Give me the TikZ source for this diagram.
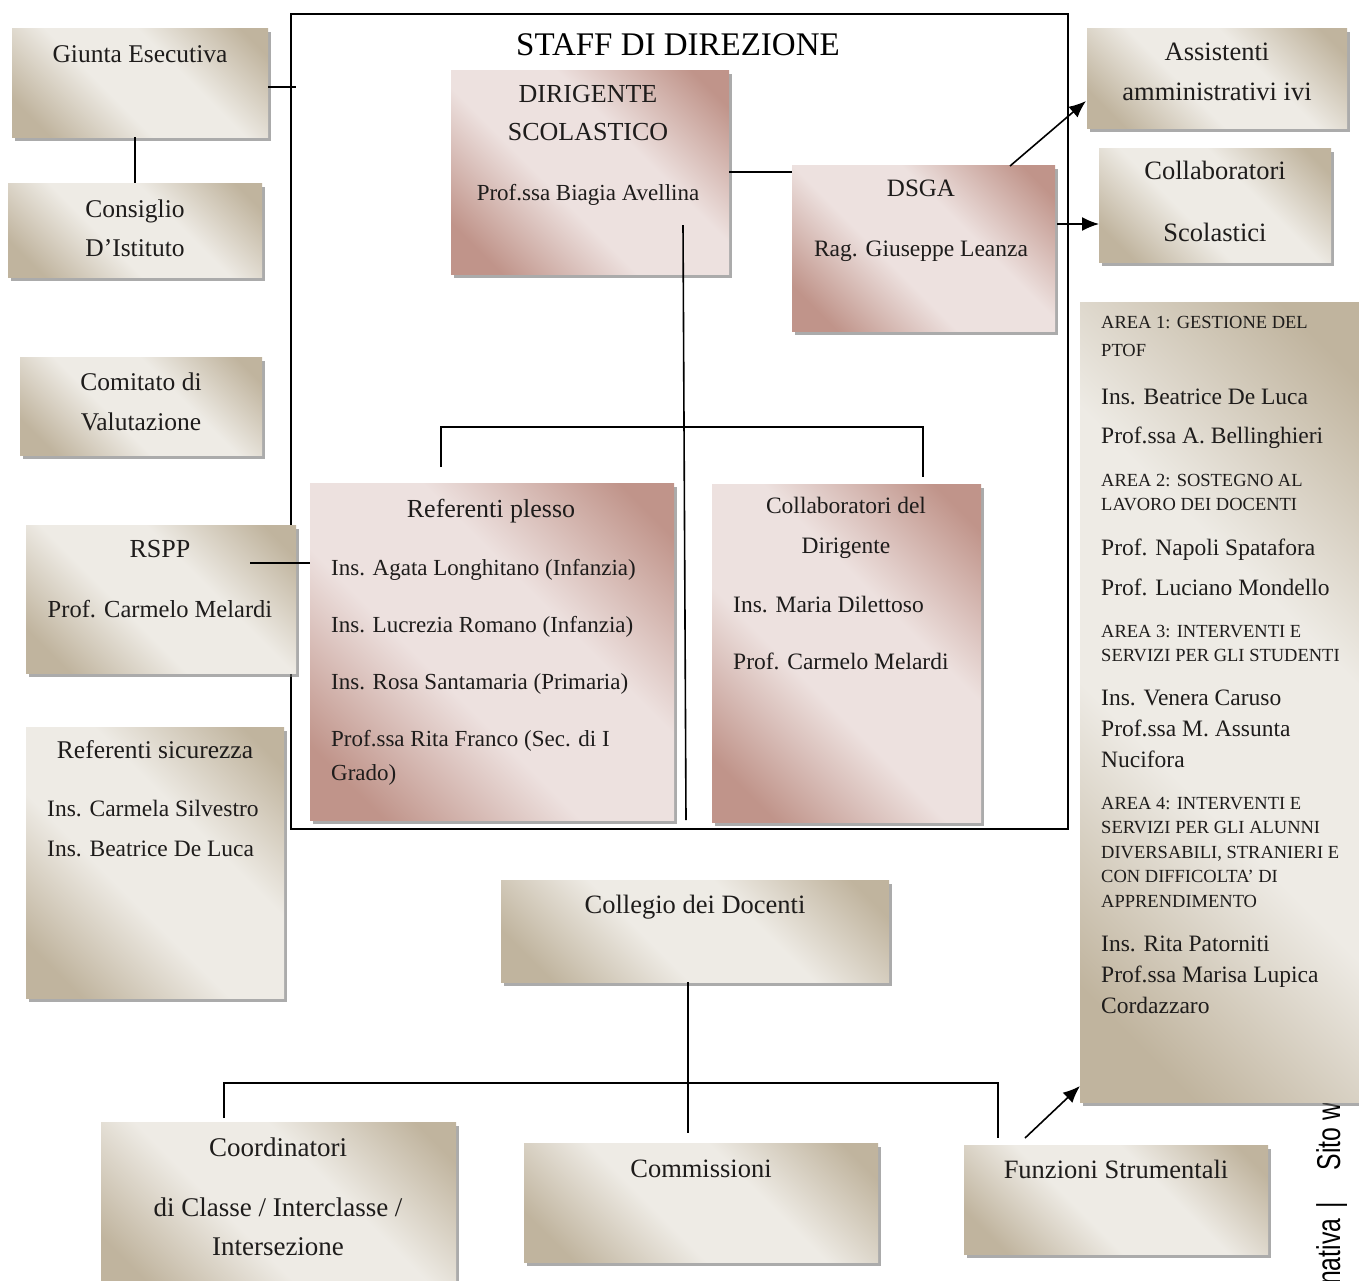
\documentclass[tikz,border=0pt]{standalone}
\usepackage{fontspec}
\setmainfont{Liberation Serif}
\newfontfamily\footfont{Liberation Sans}
\usetikzlibrary{shadows,arrows.meta}

\definecolor{beigedark}{RGB}{192,180,158}
\definecolor{beigelight}{RGB}{238,235,229}
\definecolor{rosedark}{RGB}{192,148,138}
\definecolor{roselight}{RGB}{237,225,223}
\definecolor{txt}{RGB}{30,28,27}

\pgfdeclarehorizontalshading{beigeband}{100bp}{color(0bp)=(beigedark); color(22bp)=(beigedark); color(42bp)=(beigelight); color(60bp)=(beigelight); color(80bp)=(beigedark); color(100bp)=(beigedark)}
\pgfdeclarehorizontalshading{roseband}{100bp}{color(0bp)=(rosedark); color(22bp)=(rosedark); color(42bp)=(roselight); color(60bp)=(roselight); color(80bp)=(rosedark); color(100bp)=(rosedark)}

\begin{document}
\begin{tikzpicture}[x=1pt, y=-1pt]
    \tikzstyle{box_beige} = [anchor=north west, inner sep=0pt, shading=beigeband, shading angle=45, drop shadow={shadow xshift=3pt, shadow yshift=-4pt, fill=black!55, opacity=0.6}]
    \tikzstyle{box_rose} = [anchor=north west, inner sep=0pt, shading=roseband, shading angle=45, drop shadow={shadow xshift=3pt, shadow yshift=-4pt, fill=black!55, opacity=0.6}]
    \tikzstyle{text_main} = [inner sep=0pt, text=txt, align=center, anchor=north, font=\fontsize{25.5}{39}\selectfont]
    \tikzstyle{text_list} = [inner sep=0pt, text=txt, align=left, anchor=north west, font=\fontsize{23.5}{31}\selectfont]
    \tikzstyle{text_area} = [inner sep=0pt, text=txt, align=left, anchor=north west, font=\fontsize{18.5}{24.5}\selectfont]
    \tikzstyle{edge_style} = [draw=black, line width=1.6pt]
    \tikzstyle{arrow_style} = [draw=black, line width=1.6pt, -{Latex[length=17pt,width=14pt]}]

    \useasboundingbox (0,0) rectangle (1359,1280);
    \fill[white] (0,0) rectangle (1359,1280);

    % staff frame
    \node[draw, line width=1.6pt, anchor=north west, inner sep=0pt, minimum width=777pt, minimum height=815pt] (staff) at (290,13) {};
    \node[inner sep=0pt, text=black, anchor=base, font=\fontsize{33}{38}\selectfont] (title) at (678,55) {STAFF DI DIREZIONE};

    \node[rotate=90, xscale=0.75, anchor=base west, inner sep=0pt, font=\footfont\fontsize{33}{36}\selectfont] (footer) at (1340,1285) {nativa\hspace{14pt}|\hspace{42pt}Sito we};

    % left column
    \node[box_beige, minimum width=256pt, minimum height=109pt] (giunta) at (12,28) {};
    \node[text_main] (giunta_t) at (140,45) {Giunta Esecutiva};
    \node[box_beige, minimum width=254pt, minimum height=94pt] (consiglio) at (8,183) {};
    \node[text_main] (consiglio_t) at (135,200) {Consiglio\\D'Istituto};
    \node[box_beige, minimum width=242pt, minimum height=98pt] (comitato) at (20,357) {};
    \node[text_main, font=\fontsize{25.5}{40}\selectfont] (comitato_t) at (141,373) {Comitato di\\Valutazione};
    \node[box_beige, minimum width=270pt, minimum height=148pt] (rspp) at (26,525) {};
    \node[text_main, font=\fontsize{26}{39}\selectfont] (rspp_t) at (160,540) {RSPP\\[21pt]{\fontsize{24.5}{30}\selectfont Prof. Carmelo Melardi}};
    \node[box_beige, minimum width=258pt, minimum height=271pt] (sicurezza) at (26,727) {};
    \node[text_main] (sicurezza_t) at (155,740) {Referenti sicurezza};
    \node[text_list, font=\fontsize{23.5}{40}\selectfont] (sicurezza_n) at (47,800) {Ins. Carmela Silvestro\\Ins. Beatrice De Luca};

    % right column
    \node[box_beige, minimum width=260pt, minimum height=100pt] (assistenti) at (1087,28) {};
    \node[text_main, font=\fontsize{26.5}{40}\selectfont] (assistenti_t) at (1217,43) {Assistenti\\amministrativi ivi};
    \node[box_beige, minimum width=232pt, minimum height=114pt] (collscol) at (1099,148) {};
    \node[text_main, font=\fontsize{26.5}{39}\selectfont] (collscol_t) at (1215,161) {Collaboratori\\[23pt]Scolastici};
    \node[box_beige, minimum width=285pt, minimum height=800pt] (funzarea) at (1080,302) {};
    \node[text_area, font=\fontsize{18.5}{28}\selectfont] (area1_h) at (1101,316) {AREA 1: GESTIONE DEL\\PTOF};
    \node[text_list, font=\fontsize{23.5}{39}\selectfont] (area1_n) at (1101,389) {Ins. Beatrice De Luca\\Prof.ssa A. Bellinghieri};
    \node[text_area] (area2_h) at (1101,474) {AREA 2: SOSTEGNO AL\\LAVORO DEI DOCENTI};
    \node[text_list, font=\fontsize{23.5}{40}\selectfont] (area2_n) at (1101,539) {Prof. Napoli Spatafora\\Prof. Luciano Mondello};
    \node[text_area] (area3_h) at (1101,625) {AREA 3: INTERVENTI E\\SERVIZI PER GLI STUDENTI};
    \node[text_list] (area3_n) at (1101,690) {Ins. Venera Caruso\\Prof.ssa M. Assunta\\Nucifora};
    \node[text_area] (area4_h) at (1101,797) {AREA 4: INTERVENTI E\\SERVIZI PER GLI ALUNNI\\DIVERSABILI, STRANIERI E\\CON DIFFICOLTA' DI\\APPRENDIMENTO};
    \node[text_list] (area4_n) at (1101,936) {Ins. Rita Patorniti\\Prof.ssa Marisa Lupica\\Cordazzaro};

    % staff di direzione
    \node[box_rose, minimum width=278pt, minimum height=204pt] (dirigente) at (451,70) {};
    \node[text_main, font=\fontsize{26}{38}\selectfont] (dirigente_t) at (588,85) {DIRIGENTE\\SCOLASTICO\\[22pt]{\fontsize{23}{28}\selectfont Prof.ssa Biagia Avellina}};
    \node[box_rose, minimum width=263pt, minimum height=166pt] (dsga) at (792,165) {};
    \node[text_main, font=\fontsize{25}{38}\selectfont] (dsga_t) at (921,180) {DSGA\\[22pt]{\fontsize{23.5}{28}\selectfont Rag. Giuseppe Leanza}};
    \node[box_rose, minimum width=364pt, minimum height=337pt] (plesso) at (310,483) {};
    \node[text_main, font=\fontsize{26}{38}\selectfont] (plesso_t) at (491,499) {Referenti plesso};
    \node[text_list, font=\fontsize{23}{34}\selectfont] (plesso_n) at (331,559) {Ins. Agata Longhitano (Infanzia)\\[23pt]Ins. Lucrezia Romano (Infanzia)\\[23pt]Ins. Rosa Santamaria (Primaria)\\[23pt]Prof.ssa Rita Franco (Sec. di I\\Grado)};
    \node[box_rose, minimum width=269pt, minimum height=338pt] (colldir) at (712,484) {};
    \node[text_main, font=\fontsize{23.5}{40}\selectfont] (colldir_t) at (846,497) {Collaboratori del\\Dirigente};
    \node[text_list, font=\fontsize{23.5}{57}\selectfont] (colldir_n) at (733,596) {Ins. Maria Dilettoso\\Prof. Carmelo Melardi};

    % collegio and bottom row
    \node[box_beige, minimum width=388pt, minimum height=102pt] (collegio) at (501,880) {};
    \node[text_main, font=\fontsize{26.5}{39}\selectfont] (collegio_t) at (695,895) {Collegio dei Docenti};
    \node[box_beige, minimum width=355pt, minimum height=170pt] (coordinatori) at (101,1122) {};
    \node[text_main, font=\fontsize{27}{39}\selectfont] (coordinatori_t) at (278,1138) {Coordinatori\\[21pt]di Classe / Interclasse /\\Intersezione};
    \node[box_beige, minimum width=354pt, minimum height=119pt] (commissioni) at (524,1143) {};
    \node[text_main, font=\fontsize{26.5}{39}\selectfont] (commissioni_t) at (701,1160) {Commissioni};
    \node[box_beige, minimum width=304pt, minimum height=109pt] (funzioni) at (964,1145) {};
    \node[text_main, font=\fontsize{26.5}{39}\selectfont] (funzioni_t) at (1116,1160) {Funzioni Strumentali};

    % connectors
    \coordinate (gj) at (296,87);
    \coordinate (dtop) at (683,225);
    \coordinate (dbot) at (686,820);
    \coordinate (bl) at (441,467);
    \coordinate (br) at (923,477);
    \coordinate (bk) at (0,427);
    \coordinate (rs) at (250,563);
    \coordinate (ds_a) at (1010,166);
    \coordinate (as_a) at (1086,101);
    \coordinate (ds_b) at (1057,224);
    \coordinate (cg) at (688,0);
    \coordinate (cm) at (688,1133);
    \coordinate (hb) at (0,1083);
    \coordinate (cl) at (224,1118);
    \coordinate (fr) at (998,1138);
    \coordinate (fz) at (1025,1138);
    \coordinate (fa) at (1080,1086);

    \draw[edge_style] (giunta.east |- gj) -- (gj);
    \draw[edge_style] (giunta.south -| consiglio.north) -- (consiglio.north);
    \draw[edge_style] (dirigente.east) -- (dirigente.east -| dsga.west);
    \draw[edge_style] (dtop) -- (dbot);
    \draw[edge_style] (bl) -- (bl |- bk) -- (br |- bk) -- (br);
    \draw[edge_style] (rs) -- (rs -| plesso.west);
    \draw[arrow_style] (ds_a) -- (as_a);
    \draw[arrow_style] (ds_b) -- (ds_b -| collscol.west);
    \draw[edge_style] (collegio.south -| cg) -- (cm);
    \draw[edge_style] (cl) -- (cl |- hb) -- (fr |- hb) -- (fr);
    \draw[arrow_style] (fz) -- (fa);
\end{tikzpicture}
\end{document}
